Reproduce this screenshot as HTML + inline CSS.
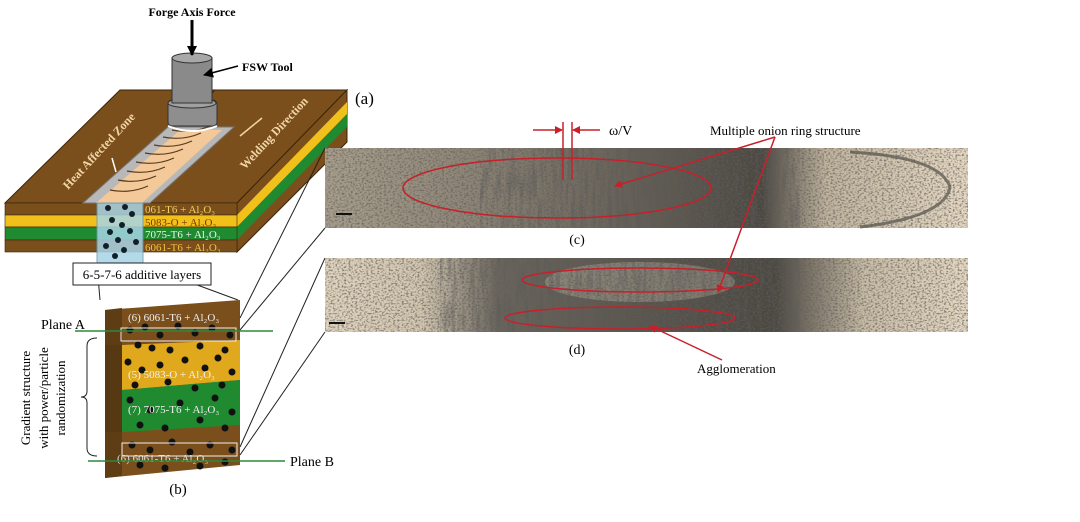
<!DOCTYPE html>
<html><head><meta charset="utf-8"><style>
html,body{margin:0;padding:0;background:#fff;}
svg{display:block;}
text{font-family:"Liberation Serif",serif;}
</style></head><body>
<svg width="1080" height="522" viewBox="0 0 1080 522" xmlns="http://www.w3.org/2000/svg">
<defs>
<filter id="noise" x="0" y="0" width="100%" height="100%">
<feTurbulence type="fractalNoise" baseFrequency="0.45 0.6" numOctaves="2" seed="3" result="t"/>
<feColorMatrix type="matrix" values="0 0 0 0 0.12  0 0 0 0 0.11  0 0 0 0 0.1  0 0 -3.2 0 1.75" in="t"/>
</filter>
<filter id="streak" x="0" y="0" width="100%" height="100%">
<feTurbulence type="fractalNoise" baseFrequency="0.25 0.03" numOctaves="2" seed="7" result="t"/>
<feColorMatrix type="matrix" values="0 0 0 0 0.1  0 0 0 0 0.1  0 0 0 0 0.1  0 0 -3 0 1.7" in="t"/>
</filter>
<linearGradient id="cbg" x1="0" x2="1"><stop offset="0" stop-color="#a89e8c"/><stop offset="0.25" stop-color="#8a8274"/><stop offset="0.45" stop-color="#6a645a"/><stop offset="0.68" stop-color="#4a4640"/><stop offset="0.78" stop-color="#c0b49e"/><stop offset="1" stop-color="#e6d9c3"/></linearGradient>
<linearGradient id="dbg" x1="0" x2="1"><stop offset="0" stop-color="#e0d4be"/><stop offset="0.15" stop-color="#d2c6b0"/><stop offset="0.27" stop-color="#6a655c"/><stop offset="0.7" stop-color="#4a4640"/><stop offset="0.84" stop-color="#c8bca6"/><stop offset="1" stop-color="#e4d8c2"/></linearGradient>
<linearGradient id="cmask" x1="0" x2="1"><stop offset="0" stop-color="#000" stop-opacity="0"/><stop offset="0.3" stop-color="#000" stop-opacity="0"/><stop offset="0.45" stop-color="#000" stop-opacity="1"/><stop offset="0.72" stop-color="#000" stop-opacity="1"/><stop offset="0.8" stop-color="#000" stop-opacity="0"/></linearGradient>
<marker id="ra" markerWidth="8" markerHeight="8" refX="7" refY="4" orient="auto" markerUnits="userSpaceOnUse"><path d="M0,0 L8,4 L0,8 z" fill="#c8202a"/></marker>
<marker id="ka" markerWidth="10" markerHeight="10" refX="9" refY="5" orient="auto" markerUnits="userSpaceOnUse"><path d="M0,0 L10,5 L0,10 z" fill="#000"/></marker>
</defs>

<!-- (a) plate -->
<polygon points="5,203 120,90 347,90 237,203" fill="#7a4f1c" stroke="#3a2508"/>
<line x1="215" y1="90" x2="170" y2="135" stroke="#3a2508"/>
<polygon points="237,203 347,90 347,142 237,252" fill="#7a4f1c" stroke="#3a2508"/>
<polygon points="237,215 347,102 347,114 237,227" fill="#f2c01a"/>
<polygon points="237,227 347,114 347,127 237,240" fill="#1f8a30"/>
<rect x="5" y="203" width="232" height="12" fill="#7a4f1c" stroke="#3a2508" stroke-width="0.6"/>
<rect x="5" y="215" width="232" height="12" fill="#f2c01a" stroke="#3a2508" stroke-width="0.6"/>
<rect x="5" y="227" width="232" height="13" fill="#1f8a30" stroke="#3a2508" stroke-width="0.6"/>
<rect x="5" y="240" width="232" height="12" fill="#7a4f1c" stroke="#3a2508" stroke-width="0.6"/>
<polygon points="83,203 150,203 234,127 168,127" fill="#b8b8b8" stroke="#777"/>
<polygon points="96,203 142,203 222,130 180,130" fill="#f3c99a"/>
<g stroke="#5a3a18" stroke-width="1.2" fill="none">
<path d="M110,190 q20,4 38,-4"/><path d="M118,180 q20,4 38,-4"/><path d="M127,171 q20,4 38,-4"/><path d="M136,162 q20,4 38,-4"/><path d="M145,153 q20,4 38,-4"/><path d="M154,145 q20,4 38,-4"/><path d="M163,137 q20,4 38,-4"/><path d="M172,130 q20,4 38,-4"/>
</g>
<rect x="97" y="203" width="46" height="62" fill="#a8d4e6" opacity="0.85" stroke="#6a9ab0"/>
<g fill="#10202a">
<circle cx="108" cy="208" r="3"/><circle cx="125" cy="207" r="3"/><circle cx="132" cy="214" r="3"/><circle cx="112" cy="220" r="3"/><circle cx="122" cy="225" r="3"/><circle cx="110" cy="232" r="3"/><circle cx="130" cy="231" r="3"/><circle cx="118" cy="240" r="3"/><circle cx="136" cy="242" r="3"/><circle cx="106" cy="246" r="3"/><circle cx="124" cy="250" r="3"/><circle cx="115" cy="256" r="3"/>
</g>
<g font-size="11" fill="#f7c040">
<text x="145" y="213" fill="#f2d060">061-T6 + Al₂O₃</text>
<text x="145" y="226" fill="#7a3a00">5083-O + Al₂O₃</text>
<text x="145" y="238" fill="#f2f2f2">7075-T6 + Al₂O₃</text>
<text x="145" y="251">6061-T6 + Al₂O₃</text>
</g>
<rect x="168" y="100" width="49" height="26" rx="4" fill="#8e8e8e" stroke="#333"/>
<ellipse cx="192" cy="103" rx="24" ry="5" fill="#a0a0a0" stroke="#333"/>
<rect x="172" y="58" width="40" height="45" fill="#8a8a8a" stroke="#333"/>
<ellipse cx="192" cy="58" rx="20" ry="5" fill="#a8a8a8" stroke="#333"/>
<path d="M168,126 q24,10 49,0" stroke="#fff" stroke-width="2" fill="none"/>
<line x1="192" y1="20" x2="192" y2="55" stroke="#000" stroke-width="3" marker-end="url(#ka)"/>
<text x="192" y="16" font-size="12" font-weight="bold" text-anchor="middle">Forge Axis Force</text>
<line x1="238" y1="66" x2="204" y2="75" stroke="#000" stroke-width="1.5" marker-end="url(#ka)"/>
<text x="242" y="71" font-size="12" font-weight="bold">FSW Tool</text>
<text x="355" y="104" font-size="17">(a)</text>
<text transform="translate(68,190) rotate(-47)" font-size="12" font-weight="bold" fill="#f3d6a8">Heat Affected Zone</text>
<line x1="112" y1="158" x2="116" y2="172" stroke="#fff" stroke-width="1.5"/>
<text transform="translate(245,170) rotate(-47)" font-size="12" font-weight="bold" fill="#f3d6a8">Welding Direction</text>
<line x1="240" y1="136" x2="262" y2="118" stroke="#f3d6a8" stroke-width="1.5"/>

<line x1="97" y1="265" x2="100" y2="300" stroke="#222"/><line x1="143" y1="265" x2="238" y2="300" stroke="#222"/>
<rect x="73" y="263" width="138" height="22" fill="#fff" stroke="#222"/>
<text x="142" y="279" font-size="13" text-anchor="middle">6-5-7-6 additive layers</text>

<!-- (b) block -->
<polygon points="105,310 240,300 240,465 105,478" fill="#7a4f1c"/>
<polygon points="105,310 122,308 122,476 105,478" fill="#5e3c14"/>
<polygon points="122,345 240,340 240,380 122,390" fill="#e0a81c"/>
<polygon points="122,390 240,380 240,425 122,432" fill="#1f8a30"/>
<polygon points="105,345 122,345 122,432 105,432" fill="#4e3612" opacity="0.5"/>
<g fill="#111">
<circle cx="130" cy="330" r="3.5"/><circle cx="145" cy="327" r="3.5"/><circle cx="160" cy="335" r="3.5"/><circle cx="178" cy="326" r="3.5"/><circle cx="195" cy="333" r="3.5"/><circle cx="212" cy="328" r="3.5"/><circle cx="230" cy="335" r="3.5"/><circle cx="138" cy="345" r="3.5"/><circle cx="152" cy="348" r="3.5"/><circle cx="170" cy="350" r="3.5"/><circle cx="200" cy="346" r="3.5"/><circle cx="225" cy="350" r="3.5"/>
<circle cx="128" cy="362" r="3.5"/><circle cx="142" cy="370" r="3.5"/><circle cx="160" cy="365" r="3.5"/><circle cx="185" cy="360" r="3.5"/><circle cx="205" cy="368" r="3.5"/><circle cx="218" cy="358" r="3.5"/><circle cx="232" cy="372" r="3.5"/><circle cx="135" cy="385" r="3.5"/><circle cx="168" cy="382" r="3.5"/><circle cx="195" cy="388" r="3.5"/><circle cx="222" cy="385" r="3.5"/>
<circle cx="130" cy="400" r="3.5"/><circle cx="150" cy="410" r="3.5"/><circle cx="180" cy="403" r="3.5"/><circle cx="215" cy="398" r="3.5"/><circle cx="232" cy="412" r="3.5"/><circle cx="140" cy="425" r="3.5"/><circle cx="165" cy="428" r="3.5"/><circle cx="200" cy="420" r="3.5"/><circle cx="225" cy="428" r="3.5"/>
<circle cx="132" cy="445" r="3.5"/><circle cx="150" cy="450" r="3.5"/><circle cx="172" cy="442" r="3.5"/><circle cx="190" cy="452" r="3.5"/><circle cx="210" cy="445" r="3.5"/><circle cx="232" cy="450" r="3.5"/><circle cx="140" cy="465" r="3.5"/><circle cx="165" cy="468" r="3.5"/><circle cx="200" cy="466" r="3.5"/><circle cx="225" cy="462" r="3.5"/>
</g>
<g font-size="11" fill="#f0f0f0">
<text x="128" y="321">(6) 6061-T6 + Al₂O₃</text>
<text x="128" y="378">(5) 5083-O + Al₂O₃</text>
<text x="128" y="413">(7) 7075-T6 + Al₂O₃</text>
<text x="117" y="462" fill="#ddd">(6) 6061-T6 + Al₂O₃</text>
</g>
<rect x="121" y="328" width="115" height="13" fill="none" stroke="#eee"/>
<rect x="122" y="443" width="115" height="13" fill="none" stroke="#eee"/>
<line x1="75" y1="331" x2="273" y2="331" stroke="#2a8a3a" stroke-width="1.5"/>
<line x1="88" y1="461" x2="285" y2="461" stroke="#2a8a3a" stroke-width="1.5"/>
<text x="41" y="329" font-size="14">Plane A</text>
<text x="290" y="466" font-size="14">Plane B</text>
<path d="M97,338 q-10,0 -10,8 v45 q0,6 -6,6 q6,0 6,6 v45 q0,8 10,8" fill="none" stroke="#222"/>
<g font-size="13" text-anchor="middle">
<text transform="translate(30,398) rotate(-90)">Gradient structure</text>
<text transform="translate(48,398) rotate(-90)">with power/particle</text>
<text transform="translate(65,398) rotate(-90)">randomization</text>
</g>
<text x="178" y="494" font-size="15" text-anchor="middle">(b)</text>

<g stroke="#222" stroke-width="1">
<line x1="240" y1="318" x2="325" y2="148"/><line x1="240" y1="330" x2="325" y2="228"/>
<line x1="240" y1="447" x2="325" y2="258"/><line x1="240" y1="455" x2="325" y2="332"/>
</g>

<!-- micrograph c -->
<rect x="325" y="148" width="643" height="80" fill="url(#cbg)"/>
<path d="M850,152 q90,5 100,35 q-5,30 -90,40" fill="none" stroke="#3a3836" stroke-width="3" opacity="0.6"/>
<rect x="325" y="148" width="643" height="80" filter="url(#noise)" opacity="0.75"/>
<rect x="480" y="148" width="320" height="80" filter="url(#streak)" opacity="0.5"/>
<rect x="336" y="213" width="16" height="2" fill="#111"/>
<!-- micrograph d -->
<rect x="325" y="258" width="643" height="74" fill="url(#dbg)"/>
<ellipse cx="640" cy="282" rx="95" ry="20" fill="#d8ceb9" opacity="0.35"/>
<rect x="325" y="258" width="643" height="74" filter="url(#noise)" opacity="0.75"/>
<rect x="440" y="258" width="360" height="74" filter="url(#streak)" opacity="0.45"/>
<rect x="329" y="322" width="16" height="2" fill="#111"/>

<g stroke="#c8202a" fill="none" stroke-width="1.5">
<ellipse cx="557" cy="188" rx="154" ry="30"/>
<ellipse cx="640" cy="280" rx="118" ry="12"/>
<ellipse cx="620" cy="318" rx="115" ry="11"/>
<line x1="563" y1="122" x2="563" y2="180"/><line x1="572" y1="122" x2="572" y2="180"/>
<line x1="533" y1="130" x2="562" y2="130" marker-end="url(#ra)"/>
<line x1="600" y1="130" x2="573" y2="130" marker-end="url(#ra)"/>
<line x1="775" y1="137" x2="615" y2="186" marker-end="url(#ra)"/>
<line x1="775" y1="137" x2="718" y2="292" marker-end="url(#ra)"/>
<line x1="722" y1="360" x2="650" y2="326" marker-end="url(#ra)"/>
</g>
<text x="609" y="135" font-size="14" font-family="Liberation Sans,sans-serif">ω/V</text>
<text x="710" y="135" font-size="13">Multiple onion ring structure</text>
<text x="577" y="244" font-size="14" text-anchor="middle">(c)</text>
<text x="577" y="354" font-size="14" text-anchor="middle">(d)</text>
<text x="697" y="373" font-size="13">Agglomeration</text>
</svg>
</body></html>
